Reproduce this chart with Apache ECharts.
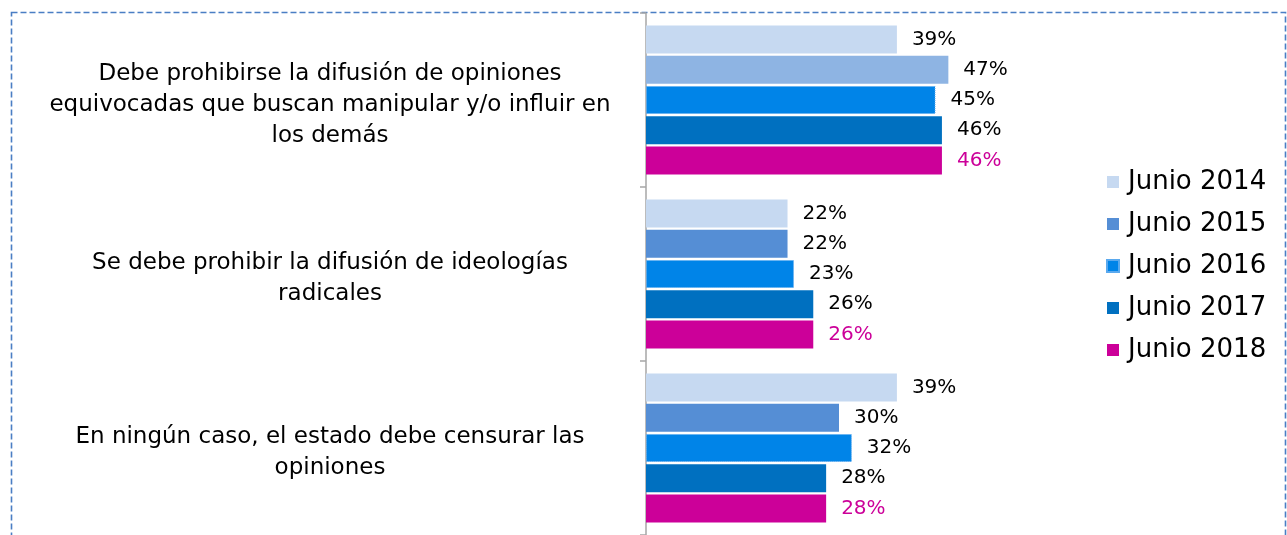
<!DOCTYPE html>
<html>
<head>
<meta charset="utf-8">
<script src="https://cdn.jsdelivr.net/npm/echarts@6/dist/echarts.min.js"></script>
<style>
  html, body { margin: 0; padding: 0; background: #ffffff; }
  #chart { width: 1287px; height: 535px; }
</style>
</head>
<body>
<div id="chart"></div>
<script>
const categories = [
    'Debe prohibirse la difusión de opiniones\nequivocadas que buscan manipular y/o influir en\nlos demás',
    'Se debe prohibir la difusión de ideologías\nradicales',
    'En ningún caso, el estado debe censurar las\nopiniones'
];
const seriesNames = ['Junio 2014', 'Junio 2015', 'Junio 2016', 'Junio 2017', 'Junio 2018'];
const junio2014 = [39, 22, 39];
const junio2015 = [47, 22, 30];
const junio2016 = [45, 23, 32];
const junio2017 = [46, 26, 28];
const junio2018 = [46, 26, 28];

const colors = ['#C6D9F1', '#558ED5', '#0084E8', '#0070C0', '#CC0099'];
const fontFamily = 'DejaVu Sans';

const chart = echarts.init(document.getElementById('chart'), null, {renderer: 'canvas'});

function makeSeries(idx, values) {
    return {
        name: seriesNames[idx],
        type: 'bar',
        data: values.slice(),
        barWidth: 28,
        barGap: '8%',
        itemStyle: {color: colors[idx]},
        label: {
            show: true,
            position: 'right',
            distance: 15,
            formatter: '{c}%',
            fontSize: 20,
            fontFamily: fontFamily,
            color: idx === 4 ? '#CC0099' : '#000000'
        }
    };
}

const series = [
    makeSeries(0, junio2014),
    makeSeries(1, junio2015),
    makeSeries(2, junio2016),
    makeSeries(3, junio2017),
    makeSeries(4, junio2018)
];
// first bar of 2015 is drawn lighter in the original
series[1].data[0] = {value: junio2015[0], itemStyle: {color: '#8EB4E3'}};
series[2].itemStyle.borderColor = '#5aa9ee';
series[2].itemStyle.borderWidth = 1;
series[2].itemStyle.borderType = 'dotted';

const option = {
    backgroundColor: '#ffffff',
    animation: false,
    textStyle: {fontFamily: fontFamily},
    graphic: [{
        type: 'rect',
        left: 9,
        top: 10,
        shape: {width: 1274, height: 600},
        style: {fill: 'none', stroke: '#4A7EC4', lineWidth: 1.6, lineDash: [6, 3]},
        silent: true
    }],
    legend: {
        data: seriesNames,
        orient: 'vertical',
        left: 1101,
        top: 164,
        itemWidth: 12,
        itemHeight: 12,
        itemGap: 16,
        icon: 'rect',
        textStyle: {fontSize: 26, color: '#000000', fontFamily: fontFamily, padding: [0, 0, 0, 4]}
    },
    grid: {left: 646, right: 255, top: 13, bottom: 0, containLabel: false},
    xAxis: {
        type: 'value',
        min: 0,
        max: 60,
        show: false
    },
    yAxis: {
        type: 'category',
        data: categories,
        inverse: true,
        axisLine: {show: true, lineStyle: {color: '#A6A6A6', width: 1.5}},
        axisTick: {show: true, length: 6, lineStyle: {color: '#A6A6A6', width: 1.5}},
        axisLabel: {
            margin: 316,
            align: 'center',
            color: '#000000',
            fontFamily: fontFamily,
            // small empty first line nudges the block a little downward
            formatter: function (v) {
                return '{s|}\n' + v.split('\n').map(function (l) { return '{t|' + l + '}'; }).join('\n');
            },
            rich: {
                s: {height: 10, lineHeight: 10},
                t: {fontSize: 23, lineHeight: 31, fontFamily: fontFamily, color: '#000000'}
            }
        }
    },
    series: series
};

chart.setOption(option);
</script>
</body>
</html>
